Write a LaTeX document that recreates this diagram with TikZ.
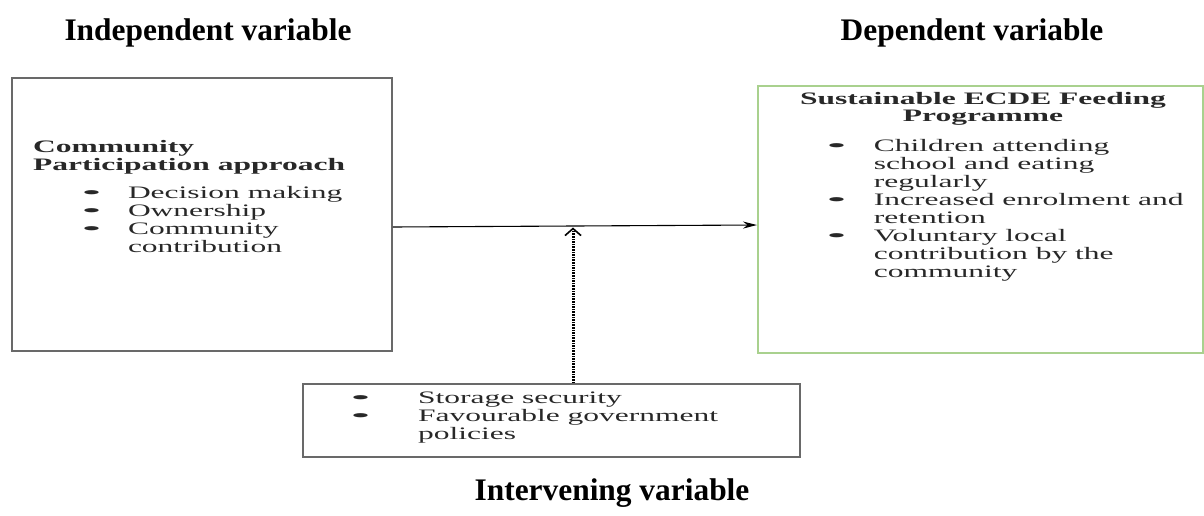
\documentclass[tikz,border=0pt]{standalone}
\usepackage{fontspec}
\usepackage{graphicx}
\setmainfont{Liberation Serif}
\usetikzlibrary{arrows.meta}
\definecolor{boxgray}{RGB}{105,105,105}
\definecolor{boxgreen}{RGB}{169,209,142}
\definecolor{txtcol}{RGB}{40,40,40}
\newcommand\sxs[1]{\scalebox{1.8}[1]{#1}}
\newcommand\bul{\scalebox{1.9}[1]{\textbullet}}
\newcommand\bodyfont{\fontsize{17.5}{18}\selectfont}
\begin{document}
\begin{tikzpicture}[x=1pt,y=-1pt,
  titletext/.style={font=\fontsize{31.4}{34}\selectfont\bfseries, inner sep=0pt, anchor=base},
  bodytext/.style={inner sep=0pt, anchor=base west, text=txtcol},
  graybox/.style={draw=boxgray, line width=1.8pt, inner sep=0pt},
  greenbox/.style={draw=boxgreen, line width=2pt, inner sep=0pt},
  mainarrow/.style={line width=1.1pt, -{Stealth[length=14pt,width=7pt]}},
  dotarrow/.style={line width=3pt, dash pattern=on 1.6pt off 1pt, -{Straight Barb[length=7pt,width=16pt,line width=1.6pt]}}
]
\useasboundingbox (0,0) rectangle (1204,516);
% titles
\node[titletext] (tI) at (208,41) {Independent variable};
\node[titletext] (tD) at (972,41) {Dependent variable};
\node[titletext] (tV) at (612,500) {Intervening variable};
% boxes
\node[graybox, minimum width=380pt, minimum height=273pt] (L) at (202,214.5) {};
\node[greenbox, minimum width=445pt, minimum height=267pt] (R) at (980.5,219.5) {};
\node[graybox, minimum width=497pt, minimum height=73pt] (V) at (551.5,420.5) {};
% left box text
\node[bodytext] (Lt) at (33,153) {\sxs{\fontsize{17.5}{17}\selectfont\bfseries\begin{tabular}[t]{@{}l@{}}Community\\Participation approach\end{tabular}}};
\node[bodytext] (Lb) at (81,198) {\sxs{\bodyfont\begin{tabular}[t]{@{}p{26pt}@{}l@{}}\bul & Decision making\\ \bul & Ownership\\ \bul & Community\\ & contribution\end{tabular}}};
% right box text
\node[inner sep=0pt, anchor=base, text=txtcol] (Rt) at (983,105) {\sxs{\fontsize{17.5}{17}\selectfont\bfseries\begin{tabular}[t]{@{}c@{}}Sustainable ECDE Feeding\\Programme\end{tabular}}};
\node[bodytext] (Rb) at (826,151) {\sxs{\bodyfont\begin{tabular}[t]{@{}p{26.5pt}@{}l@{}}\bul & Children attending\\ & school and eating\\ & regularly\\ \bul & Increased enrolment and\\ & retention\\ \bul & Voluntary local\\ & contribution by the\\ & community\end{tabular}}};
% intervening box text
\node[bodytext] (Vb) at (350,403) {\sxs{\bodyfont\begin{tabular}[t]{@{}p{37.7pt}@{}l@{}}\bul & Storage security\\ \bul & Favourable government\\ & policies\end{tabular}}};
% connectors
\coordinate (m) at (573,227.5);
\draw[mainarrow] ([yshift=-12.5pt]L.east) -- ([yshift=-5.5pt]R.west);
\draw[dotarrow] (V.north -| m) -- (m);
\end{tikzpicture}
\end{document}
